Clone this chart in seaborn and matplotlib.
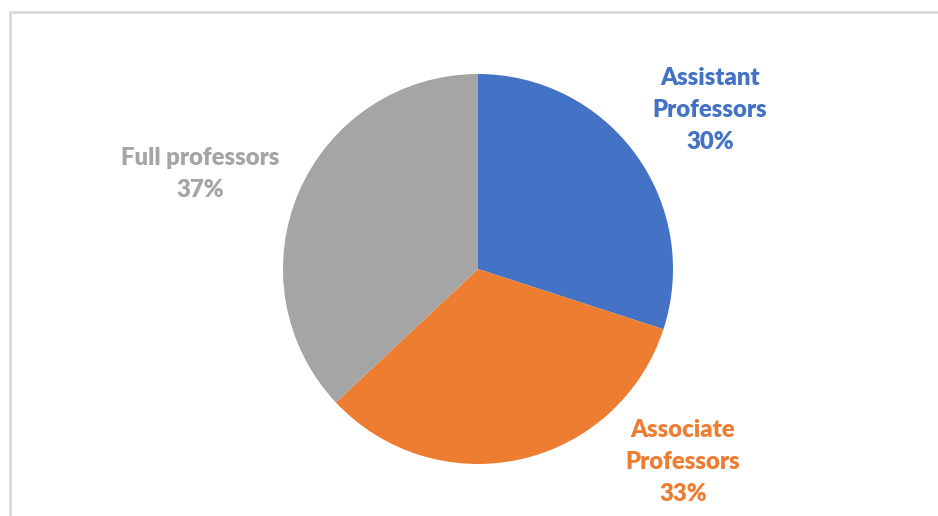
import matplotlib
matplotlib.use("Agg")
import matplotlib.pyplot as plt
import seaborn as sns

sns.set_theme(style="white")
plt.rcParams["font.family"] = ["Lato", "DejaVu Sans"]

categories = ["Assistant\nProfessors", "Associate\nProfessors", "Full professors"]
shares = [30, 33, 37]
colors = ["#4472C4", "#ED7D31", "#A5A5A5"]

W, H = 938, 516
fig = plt.figure(figsize=(W / 100, H / 100), dpi=100)
fig.patch.set_facecolor("white")

# light chart-area frame (runs off the right and bottom edges)
frame = plt.Rectangle((10 / W, -0.1), 1.0, (H - 12) / H + 0.1,
                      transform=fig.transFigure, fill=False,
                      edgecolor="#D9D9D9", linewidth=2)
fig.add_artist(frame)

# pie: centre (478, 269) px, radius 195 px
cx, cy, r = 478, 269, 195
ax = fig.add_axes([(cx - r) / W, (H - cy - r) / H, 2 * r / W, 2 * r / H])
ax.pie(shares, colors=colors, startangle=90, counterclock=False,
       radius=1.0, wedgeprops=dict(linewidth=0))
ax.set_xlim(-1, 1)
ax.set_ylim(-1, 1)
ax.set_aspect("equal")
ax.axis("off")

# label centres in pixels
label_px = [(710, 110), (683, 462), (200, 174)]
for cat, val, col, (px, py) in zip(categories, shares, colors, label_px):
    x = (px - cx) / r
    y = (cy - py) / r
    ax.text(x, y, f"{cat}\n{val}%", color=col, ha="center", va="center",
            fontsize=17.2, fontweight="heavy", linespacing=1.56,
            clip_on=False)

fig.savefig("out.png", dpi=100, facecolor="white")
